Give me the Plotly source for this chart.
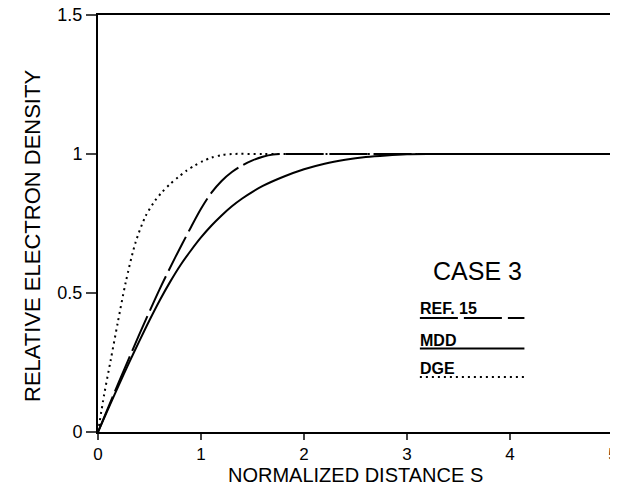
import plotly.graph_objects as go

# Normalized distance S and relative electron density
s_mdd = [0, 0.1, 0.2, 0.3, 0.4, 0.5, 0.6, 0.7, 0.8, 0.9, 1.0, 1.1, 1.2, 1.3, 1.4, 1.5,
         1.6, 1.8, 2.0, 2.2, 2.4, 2.6, 2.8, 3.0, 3.2, 3.6, 4.0, 4.5, 5.0]
v_mdd = [0, 0.084, 0.167, 0.248, 0.326, 0.402, 0.474, 0.54, 0.6, 0.652, 0.70, 0.742,
         0.779, 0.812, 0.84, 0.864, 0.885, 0.918, 0.945, 0.965, 0.979, 0.989, 0.995,
         0.999, 1.0, 1.0, 1.0, 1.0, 1.0]

s_ref = [0, 0.2, 0.4, 0.6, 0.75, 0.9, 1.0, 1.1, 1.2, 1.3, 1.4, 1.5, 1.6, 1.7, 1.8,
         2.2, 3.0, 4.0, 5.0]
v_ref = [0, 0.178, 0.35, 0.515, 0.628, 0.735, 0.803, 0.86, 0.903, 0.935, 0.959, 0.977,
         0.99, 0.998, 1.0, 1.0, 1.0, 1.0, 1.0]

s_dge = [0, 0.06, 0.124, 0.19, 0.27, 0.363, 0.46, 0.55, 0.62, 0.7, 0.78, 0.86, 0.94,
         1.02, 1.1, 1.2, 1.3, 1.6, 2.0, 3.0, 4.0, 5.0]
v_dge = [0, 0.135, 0.26, 0.39, 0.54, 0.68, 0.775, 0.83, 0.862, 0.892, 0.917, 0.94,
         0.959, 0.975, 0.987, 0.996, 1.0, 1.0, 1.0, 1.0, 1.0, 1.0]

x_ticks = [0, 1, 2, 3, 4, 5]
y_ticks = [0, 0.5, 1, 1.5]

legend_names = ["REF. 15", "MDD", "DGE"]
legend_dash = ["38px,6px", "solid", "2px,4px"]
legend_text_y = [0.446, 0.33, 0.227]
legend_line_y = [0.41, 0.30, 0.198]

FONT = "Liberation Sans"

fig = go.Figure()
fig.add_trace(go.Scatter(x=s_dge, y=v_dge, mode="lines",
                         line=dict(color="black", width=2, dash="2px,4px", shape="spline", smoothing=0.8)))
fig.add_trace(go.Scatter(x=s_mdd, y=v_mdd, mode="lines",
                         line=dict(color="black", width=2, shape="spline", smoothing=0.8)))
fig.add_trace(go.Scatter(x=s_ref, y=v_ref, mode="lines",
                         line=dict(color="black", width=2, dash="38px,6px", shape="spline", smoothing=0.8)))

# Legend block
fig.add_annotation(x=3.68, y=0.578, text="CASE 3", showarrow=False,
                   font=dict(family=FONT, size=25, color="black"), xanchor="center", yanchor="middle")
for name, dash, ty, ly in zip(legend_names, legend_dash, legend_text_y, legend_line_y):
    fig.add_annotation(x=3.11, y=ty, text="<b>" + name + "</b>", showarrow=False,
                       font=dict(family=FONT, size=16, color="black"), xanchor="left", yanchor="middle")
    fig.add_shape(type="line", x0=3.125, x1=4.14, y0=ly, y1=ly, xref="x", yref="y",
                  line=dict(color="black", width=2, dash=dash))

# Axis titles
fig.add_annotation(x=0.5, y=0, xref="paper", yref="paper", yshift=-43, showarrow=False,
                   text="NORMALIZED DISTANCE S", xanchor="center", yanchor="middle",
                   font=dict(family=FONT, size=20, color="black"))
fig.add_annotation(x=0, y=0.47, xref="paper", yref="paper", xshift=-66, showarrow=False,
                   text="RELATIVE ELECTRON DENSITY", textangle=-90, xanchor="center", yanchor="middle",
                   font=dict(family=FONT, size=22, color="black"))

fig.update_xaxes(range=[0, 5], tickvals=x_ticks, ticks="outside", ticklen=6, tickwidth=1.5,
                 showline=True, linewidth=2, linecolor="black", mirror=True, showgrid=False,
                 zeroline=False, automargin=False, ticklabeloverflow="allow",
                 tickfont=dict(family=FONT, size=17, color="black"))
fig.update_yaxes(range=[0, 1.5], tickvals=y_ticks, ticks="outside", ticklen=10, tickwidth=1.5,
                 showline=True, linewidth=2, linecolor="black", mirror=True, showgrid=False,
                 zeroline=False, automargin=False, ticklabeloverflow="allow",
                 tickfont=dict(family=FONT, size=18, color="black"))
fig.update_layout(width=618, height=489, margin=dict(l=90, r=13, t=7, b=65, autoexpand=False),
                  plot_bgcolor="white", paper_bgcolor="white", showlegend=False)
fig.write_html("out.html")
